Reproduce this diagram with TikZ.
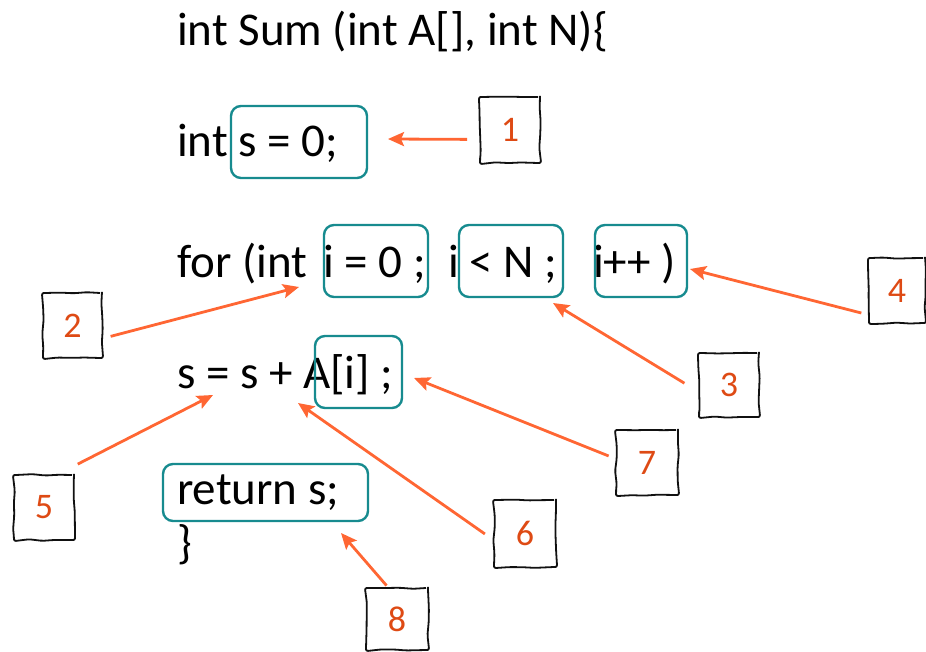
\documentclass[tikz,border=0pt]{standalone}
\usepackage{fontspec}
\setmainfont{Carlito}
\usetikzlibrary{arrows.meta,decorations.pathmorphing}
\definecolor{Ink}{HTML}{111111}
\definecolor{Teal}{HTML}{178B8F}
\definecolor{Flame}{HTML}{FF6633}
\definecolor{Rust}{HTML}{DE4A14}
\tikzset{
  >={Stealth[length=16pt,width=14pt,inset=3pt]},
  code/.style={anchor=base west,inner sep=0pt,font=\fontsize{47}{56}\selectfont},
  hl/.style={draw=Teal,line width=2.4pt,rounded corners=10pt,minimum height=72pt,inner sep=0pt},
  numbox/.style={draw=Ink,line width=1.8pt,minimum width=60pt,minimum height=65pt,inner sep=0pt,
    text=Rust,font=\fontsize{36}{42}\selectfont,
    decorate,decoration={random steps,segment length=13pt,amplitude=0.9pt},rounded corners=2pt},
  ptr/.style={->,draw=Flame,line width=2.8pt}
}
\pgfmathsetseed{11}
\begin{document}
\begin{tikzpicture}[x=1pt,y=-1pt]
  \useasboundingbox (0,0) rectangle (926,652);
  \node[code] (sig) at (177,46) {int Sum (int A[], int N)\{};
  \node[code] (init) at (177,157) {int s = 0;};
  \node[code] (fr) at (177,277) {for (int};
  \node[code] (ini) at (323,277) {i = 0 ;};
  \node[code] (cnd) at (448,277) {i < N ;};
  \node[code] (inc) at (593,277) {i++ )};
  \node[code] (acc) at (177,388) {s = s + A[i] ;};
  \node[code] (ret) at (177,504) {return s;};
  \node[code] (cls) at (177,558) {\}};
  \node[hl,minimum width=136pt] (b1) at (299,142) {};
  \node[hl,minimum width=104pt] (b2) at (376,261) {};
  \node[hl,minimum width=104pt] (b3) at (511,261) {};
  \node[hl,minimum width=92pt] (b4) at (641,261) {};
  \node[hl,minimum width=87pt] (b5) at (358.5,372) {};
  \node[hl,minimum width=205pt,minimum height=57pt] (b6) at (265.5,492.5) {};
  \node[numbox,minimum height=66pt] (n1) at (510,130) {1};
  \node[numbox,minimum width=59pt] (n2) at (72.5,325.5) {2};
  \node[numbox,minimum height=64pt] (n3) at (729,385) {3};
  \node[numbox,minimum width=56pt] (n4) at (897,290.5) {4};
  \node[numbox] (n5) at (44,507.5) {5};
  \node[numbox,minimum width=62pt,minimum height=67pt] (n6) at (525,533.5) {6};
  \node[numbox,minimum width=62pt] (n7) at (647,462.5) {7};
  \node[numbox,minimum width=62pt,minimum height=62pt] (n8) at (397,619) {8};
  \coordinate (p1) at (388,139);
  \coordinate (p2) at (299,287);
  \coordinate (p3) at (553,303);
  \coordinate (p4) at (690,269);
  \coordinate (p5) at (213,395);
  \coordinate (p6) at (298,403);
  \coordinate (p7) at (414,378);
  \coordinate (p8) at (341,533);
  \draw[ptr,shorten <=12pt] (n1.197) -- (p1);
  \draw[ptr,shorten <=8pt] (n2.-23) -- (p2);
  \draw[ptr,shorten <=16pt] (n3.192) -- (p3);
  \draw[ptr,shorten <=7pt] (n4.220) -- (p4);
  \draw[ptr,shorten <=22pt] (n5.67) -- (p5);
  \draw[ptr,shorten <=10pt] (n6.191) -- (p6);
  \draw[ptr,shorten <=7pt] (n7.173) -- (p7);
  \draw[ptr,shorten <=2pt] (n8.106) -- (p8);
\end{tikzpicture}
\end{document}
